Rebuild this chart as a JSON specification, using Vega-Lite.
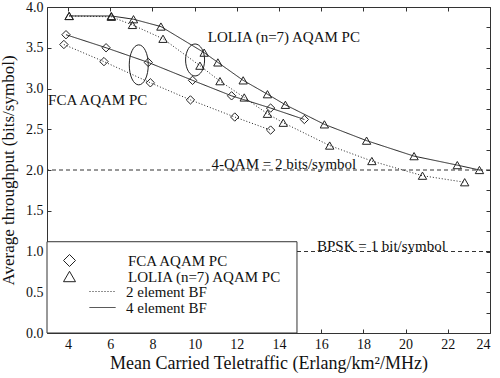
{
  "$schema": "https://vega.github.io/schema/vega-lite/v6.json",
  "width": 443,
  "height": 326,
  "autosize": "none",
  "padding": {"left": 47, "top": 7, "right": 10, "bottom": 45},
  "config": {
    "font": "Times New Roman, Liberation Serif, DejaVu Serif, serif",
    "view": {"stroke": "#333", "strokeWidth": 1},
    "axis": {"grid": false, "domain": false, "labelFont": "Times New Roman, Liberation Serif, DejaVu Serif, serif", "labelFontSize": 14, "labelColor": "#111", "titleFont": "Times New Roman, Liberation Serif, DejaVu Serif, serif", "titleFontWeight": "normal", "titleFontSize": 17, "titleColor": "#111", "tickColor": "#333", "tickSize": -4, "labelPadding": 8},
    "legend": {"labelFont": "Times New Roman, Liberation Serif, DejaVu Serif, serif", "labelFontSize": 15, "labelColor": "#111", "padding": 0},
    "text": {"font": "Times New Roman, Liberation Serif, DejaVu Serif, serif"}
  },
  "datasets": {
    "curves": [
      {"scheme": "FCA AQAM PC", "bf": "4 element BF", "x": 3.9, "y": 3.66},
      {"scheme": "FCA AQAM PC", "bf": "4 element BF", "x": 5.8, "y": 3.50},
      {"scheme": "FCA AQAM PC", "bf": "4 element BF", "x": 7.8, "y": 3.32},
      {"scheme": "FCA AQAM PC", "bf": "4 element BF", "x": 9.9, "y": 3.10},
      {"scheme": "FCA AQAM PC", "bf": "4 element BF", "x": 11.75, "y": 2.91},
      {"scheme": "FCA AQAM PC", "bf": "4 element BF", "x": 13.6, "y": 2.76},
      {"scheme": "FCA AQAM PC", "bf": "4 element BF", "x": 15.2, "y": 2.62},
      {"scheme": "FCA AQAM PC", "bf": "2 element BF", "x": 3.8, "y": 3.54},
      {"scheme": "FCA AQAM PC", "bf": "2 element BF", "x": 5.7, "y": 3.33},
      {"scheme": "FCA AQAM PC", "bf": "2 element BF", "x": 7.9, "y": 3.07},
      {"scheme": "FCA AQAM PC", "bf": "2 element BF", "x": 9.8, "y": 2.86},
      {"scheme": "FCA AQAM PC", "bf": "2 element BF", "x": 11.9, "y": 2.65},
      {"scheme": "FCA AQAM PC", "bf": "2 element BF", "x": 13.6, "y": 2.49},
      {"scheme": "LOLIA (n=7) AQAM PC", "bf": "4 element BF", "x": 4.05, "y": 3.89},
      {"scheme": "LOLIA (n=7) AQAM PC", "bf": "4 element BF", "x": 6.05, "y": 3.89},
      {"scheme": "LOLIA (n=7) AQAM PC", "bf": "4 element BF", "x": 7.1, "y": 3.85},
      {"scheme": "LOLIA (n=7) AQAM PC", "bf": "4 element BF", "x": 8.4, "y": 3.76},
      {"scheme": "LOLIA (n=7) AQAM PC", "bf": "4 element BF", "x": 10.45, "y": 3.44},
      {"scheme": "LOLIA (n=7) AQAM PC", "bf": "4 element BF", "x": 11.1, "y": 3.32},
      {"scheme": "LOLIA (n=7) AQAM PC", "bf": "4 element BF", "x": 12.3, "y": 3.10},
      {"scheme": "LOLIA (n=7) AQAM PC", "bf": "4 element BF", "x": 13.45, "y": 2.93},
      {"scheme": "LOLIA (n=7) AQAM PC", "bf": "4 element BF", "x": 14.3, "y": 2.80},
      {"scheme": "LOLIA (n=7) AQAM PC", "bf": "4 element BF", "x": 16.15, "y": 2.56},
      {"scheme": "LOLIA (n=7) AQAM PC", "bf": "4 element BF", "x": 18.15, "y": 2.36},
      {"scheme": "LOLIA (n=7) AQAM PC", "bf": "4 element BF", "x": 20.4, "y": 2.17},
      {"scheme": "LOLIA (n=7) AQAM PC", "bf": "4 element BF", "x": 22.45, "y": 2.06},
      {"scheme": "LOLIA (n=7) AQAM PC", "bf": "4 element BF", "x": 23.5, "y": 2.0},
      {"scheme": "LOLIA (n=7) AQAM PC", "bf": "2 element BF", "x": 4.05, "y": 3.89},
      {"scheme": "LOLIA (n=7) AQAM PC", "bf": "2 element BF", "x": 6.05, "y": 3.88},
      {"scheme": "LOLIA (n=7) AQAM PC", "bf": "2 element BF", "x": 7.05, "y": 3.78},
      {"scheme": "LOLIA (n=7) AQAM PC", "bf": "2 element BF", "x": 8.5, "y": 3.61},
      {"scheme": "LOLIA (n=7) AQAM PC", "bf": "2 element BF", "x": 10.25, "y": 3.28},
      {"scheme": "LOLIA (n=7) AQAM PC", "bf": "2 element BF", "x": 11.2, "y": 3.09},
      {"scheme": "LOLIA (n=7) AQAM PC", "bf": "2 element BF", "x": 12.35, "y": 2.89},
      {"scheme": "LOLIA (n=7) AQAM PC", "bf": "2 element BF", "x": 13.45, "y": 2.69},
      {"scheme": "LOLIA (n=7) AQAM PC", "bf": "2 element BF", "x": 14.2, "y": 2.58},
      {"scheme": "LOLIA (n=7) AQAM PC", "bf": "2 element BF", "x": 16.4, "y": 2.30},
      {"scheme": "LOLIA (n=7) AQAM PC", "bf": "2 element BF", "x": 18.4, "y": 2.11},
      {"scheme": "LOLIA (n=7) AQAM PC", "bf": "2 element BF", "x": 20.8, "y": 1.93},
      {"scheme": "LOLIA (n=7) AQAM PC", "bf": "2 element BF", "x": 22.8, "y": 1.85}
    ],
    "refs": [
      {"y": 2.0},
      {"y": 1.0}
    ],
    "labels": [
      {"text": "LOLIA (n=7) AQAM PC", "x": 10.62, "y": 3.57},
      {"text": "FCA AQAM PC", "x": 3.05, "y": 2.80},
      {"text": "4-QAM = 2 bits/symbol", "x": 10.8, "y": 2.01},
      {"text": "BPSK = 1 bit/symbol", "x": 15.8, "y": 1.01}
    ],
    "box": [
      {"x": 3, "x2": 14.85, "y": 0, "y2": 1.12}
    ],
    "ellipseA": [{"x": 7.35, "y": 3.29}],
    "ellipseB": [{"x": 10.02, "y": 3.35}]
  },
  "resolve": {"axis": {"x": "independent", "y": "independent"}},
  "layer": [
    {
      "data": {"name": "refs"},
      "mark": {"type": "rule", "color": "#333", "strokeWidth": 1, "strokeDash": [4, 3]},
      "encoding": {
        "y": {"field": "y", "type": "quantitative", "scale": {"domain": [0, 4], "nice": false, "zero": true}, "axis": null}
      }
    },
    {
      "data": {"name": "box"},
      "mark": {"type": "rect", "fill": "white", "stroke": "#333", "strokeWidth": 1},
      "encoding": {
        "x": {"field": "x", "type": "quantitative", "scale": {"domain": [3, 24], "nice": false, "zero": false}, "axis": null},
        "x2": {"field": "x2"},
        "y": {"field": "y", "type": "quantitative", "axis": null},
        "y2": {"field": "y2"}
      }
    },
    {
      "data": {"name": "curves"},
      "mark": {"type": "line", "color": "#222", "strokeWidth": 1},
      "encoding": {
        "x": {"field": "x", "type": "quantitative", "scale": {"domain": [3, 24], "nice": false, "zero": false},
              "axis": {"orient": "bottom", "values": [4, 6, 8, 10, 12, 14, 16, 18, 20, 22, 24], "title": "Mean Carried Teletraffic (Erlang/km²/MHz)", "titleFontSize": 18, "titlePadding": 3}},
        "y": {"field": "y", "type": "quantitative", "scale": {"domain": [0, 4], "nice": false},
              "axis": {"orient": "left", "values": [0, 0.5, 1, 1.5, 2, 2.5, 3, 3.5, 4], "format": ".1f", "title": "Average throughput (bits/symbol)", "titlePadding": 8}},
        "detail": {"field": "scheme"},
        "strokeDash": {"field": "bf", "type": "nominal",
                       "scale": {"domain": ["2 element BF", "4 element BF"], "range": [[1, 2], [1, 0]]},
                       "legend": {"title": null, "orient": "none", "legendX": 48, "legendY": 277, "symbolType": "M -2,0 L 2,0", "symbolSize": 169, "symbolStrokeWidth": 1, "symbolStrokeColor": "#222", "labelOffset": 16, "rowPadding": -1}}
      }
    },
    {
      "data": {"name": "curves"},
      "mark": {"type": "point", "filled": false, "color": "#222", "strokeWidth": 1, "size": 70, "opacity": 1},
      "encoding": {
        "x": {"field": "x", "type": "quantitative", "axis": {"orient": "top", "values": [4, 6, 8, 10, 12, 14, 16, 18, 20, 22, 24], "labels": false, "title": null}},
        "y": {"field": "y", "type": "quantitative", "axis": {"orient": "right", "values": [0, 0.25, 0.5, 0.75, 1, 1.25, 1.5, 1.75, 2, 2.25, 2.5, 2.75, 3, 3.25, 3.5, 3.75, 4], "labels": false, "title": null}},
        "shape": {"field": "scheme", "type": "nominal",
                  "scale": {"domain": ["FCA AQAM PC", "LOLIA (n=7) AQAM PC"], "range": ["diamond", "triangle-up"]},
                  "legend": {"title": null, "orient": "none", "legendX": 15, "legendY": 246, "symbolSize": 144, "symbolStrokeWidth": 1, "symbolStrokeColor": "#222", "symbolFillColor": "transparent", "labelOffset": 51, "rowPadding": 0}}
      }
    },
    {
      "data": {"name": "ellipseA"},
      "mark": {"type": "point", "shape": "M0,-1A0.475,1,0,1,1,0,1A0.475,1,0,1,1,0,-1Z", "size": 1600, "filled": false, "stroke": "#222", "strokeWidth": 1, "opacity": 1},
      "encoding": {
        "x": {"field": "x", "type": "quantitative", "axis": null},
        "y": {"field": "y", "type": "quantitative", "axis": null}
      }
    },
    {
      "data": {"name": "ellipseB"},
      "mark": {"type": "point", "shape": "M0,-1A0.594,1,0,1,1,0,1A0.594,1,0,1,1,0,-1Z", "size": 1024, "filled": false, "stroke": "#222", "strokeWidth": 1, "opacity": 1},
      "encoding": {
        "x": {"field": "x", "type": "quantitative", "axis": null},
        "y": {"field": "y", "type": "quantitative", "axis": null}
      }
    },
    {
      "data": {"name": "labels"},
      "mark": {"type": "text", "align": "left", "baseline": "alphabetic", "font": "Times New Roman, Liberation Serif, DejaVu Serif, serif", "fontSize": 15, "color": "#111"},
      "encoding": {
        "x": {"field": "x", "type": "quantitative", "axis": null},
        "y": {"field": "y", "type": "quantitative", "axis": null},
        "text": {"field": "text"}
      }
    }
  ]
}
